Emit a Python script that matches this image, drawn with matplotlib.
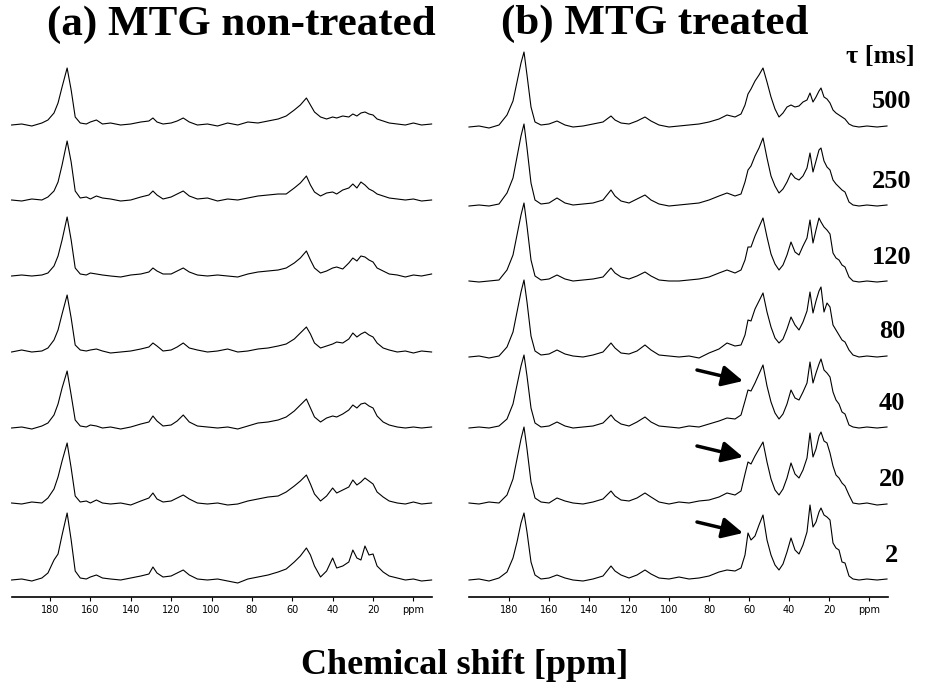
import numpy as np
import matplotlib
matplotlib.use('Agg')
import matplotlib.pyplot as plt

# chemical shift grids (ppm) for the two panels
ppm_a = [199, 194, 189, 184, 181, 178, 176, 174, 171.5, 169.5, 167.5, 165, 162, 160, 157, 154, 150, 145,
         140, 135, 131, 129, 127, 124, 120, 117, 114, 111, 107, 102, 97, 92, 87, 82, 77, 72, 67, 63, 59,
         56, 53, 51, 49, 46, 43, 40, 38, 35, 32, 30, 28, 26, 24, 22, 20, 18, 15, 12, 8, 4, 0, -4, -9]
ppm_b = [200, 195, 190, 185, 181, 178, 176, 174, 172.5, 171, 169, 167, 164, 160, 156, 152, 148, 143,
         138, 133, 129, 127, 124, 120, 116, 112, 109, 105, 100, 95, 90, 85, 80, 75, 71, 67, 64, 62, 60.5,
         59, 57, 55, 53, 51, 49, 47, 45, 43, 41, 39, 37, 35, 33, 31, 29.5, 28, 26.5, 25, 24, 22.5, 21,
         19.5, 18, 16.5, 15, 13.5, 12, 10, 8, 5, 1, -4, -9]

tau = ["500", "250", "120", "80", "40", "20", "2"]

# (a) MTG non-treated, intensities (top to bottom)
a_500 = [0, 1, -1, 2, 5, 12, 22, 38, 57, 35, 8, 2, 1, 3, 5, 1, 2, 0, 1, 3, 4, 7, 3, 1, 2, 4, 7, 3, 0, 1,
         -1, 2, 0, 3, 2, 4, 6, 9, 15, 20, 27, 20, 13, 8, 6, 8, 7, 9, 8, 11, 9, 12, 13, 11, 10, 6, 4, 2, 1, 0,
         2, 0, 1]
a_250 = [0, -1, 1, 0, 3, 9, 18, 35, 59, 38, 9, 2, 3, 1, 4, 2, 1, -1, 0, 3, 5, 9, 5, 1, 3, 6, 9, 4, 1, 2,
         -1, 1, 0, 2, 4, 5, 6, 6, 12, 17, 24, 15, 8, 4, 7, 8, 6, 10, 12, 16, 12, 18, 15, 11, 9, 6, 4, 2, 1, 0,
         1, -1, 0]
a_120 = [0, 1, 0, 1, 3, 10, 20, 36, 59, 36, 8, 2, 1, 3, 2, 1, 0, -1, 1, 2, 4, 8, 5, 2, 2, 5, 8, 4, 1, 0,
         1, 0, -1, 2, 4, 5, 6, 8, 13, 18, 25, 16, 8, 3, 5, 8, 9, 7, 13, 18, 15, 20, 19, 16, 14, 8, 5, 2, 1, -1,
         1, 0, 2]
a_80 = [0, 2, 0, 1, 4, 12, 22, 38, 57, 34, 7, 2, 1, 2, 3, 1, -1, 0, 1, 3, 5, 9, 6, 1, 2, 5, 9, 4, 2, 0,
        1, 3, 0, 1, 3, 4, 6, 8, 13, 19, 25, 18, 9, 4, 6, 8, 10, 9, 13, 19, 15, 18, 20, 17, 15, 9, 4, 2, 0, 1,
        -1, 1, 0]
a_40 = [0, 1, -1, 2, 5, 13, 24, 40, 57, 33, 8, 2, 1, 3, 2, 0, 1, -1, 1, 4, 6, 12, 7, 2, 3, 7, 13, 6, 2, 1,
        0, 1, -1, 2, 5, 6, 8, 11, 17, 23, 29, 20, 11, 6, 10, 12, 11, 14, 18, 23, 20, 24, 25, 22, 20, 12, 6, 3, 1, 0,
        1, 0, 1]
a_20 = [1, 0, 2, 1, 6, 15, 27, 43, 61, 36, 8, 2, 3, 1, 4, 1, 0, 1, -1, 3, 6, 11, 5, 2, 3, 6, 9, 5, 1, 0,
        1, -1, 0, 3, 5, 7, 8, 12, 18, 23, 29, 20, 10, 3, 8, 16, 11, 14, 17, 24, 19, 22, 26, 23, 20, 12, 7, 3, 1, 0,
        2, 0, 1]
a_2 = [0, 1, -1, 2, 7, 20, 26, 45, 67, 40, 9, 2, 1, 3, 5, 2, 1, 0, 2, 4, 6, 13, 7, 3, 4, 7, 10, 5, 1, 0,
       1, -1, -3, 1, 3, 5, 8, 11, 18, 24, 32, 25, 14, 3, 9, 22, 12, 14, 18, 30, 22, 20, 34, 25, 26, 14, 8, 4, 2, 0,
       1, -1, 0]

# (b) MTG treated
b_500 = [0, 1, -1, 2, 12, 26, 45, 64, 75, 52, 20, 5, 2, 3, 6, 2, 0, 1, 3, 5, 11, 7, 4, 3, 6, 10, 6, 2, 0, 1,
         2, 3, 5, 8, 12, 10, 13, 22, 33, 38, 46, 52, 59, 45, 30, 18, 10, 14, 20, 22, 20, 21, 25, 27, 34, 25, 30, 36, 39, 30,
         28, 24, 17, 14, 12, 10, 8, 3, 1, 0, 1, 0, 1]
b_250 = [0, 1, 0, 2, 13, 28, 49, 70, 82, 58, 23, 6, 2, 3, 8, 3, 1, 2, 3, 6, 16, 10, 5, 3, 7, 11, 6, 2, 0, 1,
         2, 3, 6, 10, 13, 10, 12, 24, 36, 40, 50, 58, 68, 48, 30, 20, 13, 17, 24, 33, 28, 26, 30, 38, 53, 34, 45, 56, 58, 45,
         39, 36, 26, 22, 19, 16, 14, 4, 1, 0, 1, 0, 1]
b_120 = [1, 0, 1, 2, 12, 27, 47, 67, 79, 56, 22, 6, 2, 3, 7, 3, 1, 2, 3, 5, 14, 9, 5, 3, 6, 10, 6, 2, 1, 1,
         2, 3, 5, 9, 12, 9, 12, 22, 35, 35, 46, 55, 64, 45, 28, 18, 12, 17, 27, 40, 30, 27, 36, 44, 62, 39, 52, 64, 60, 55,
         52, 48, 29, 24, 22, 17, 15, 5, 1, 0, 1, 0, 1]
b_80 = [0, 1, -1, 1, 10, 25, 45, 65, 77, 55, 21, 6, 2, 3, 7, 3, 1, 0, 2, 5, 14, 9, 4, 3, 6, 12, 7, 2, 1, 0,
        1, -1, 4, 8, 14, 11, 12, 22, 37, 36, 48, 56, 64, 45, 30, 19, 14, 18, 28, 40, 32, 27, 35, 46, 65, 44, 56, 66, 70, 45,
        54, 50, 32, 27, 22, 17, 15, 7, 2, 0, 1, 0, 1]
b_40 = [0, 1, 0, 2, 9, 24, 43, 62, 73, 52, 20, 5, 1, 2, 6, 2, 0, 1, 2, 5, 13, 8, 4, 2, 6, 11, 6, 2, 1, 0,
        2, 1, 4, 7, 10, 9, 13, 27, 38, 37, 45, 54, 63, 42, 26, 15, 9, 14, 24, 38, 30, 28, 36, 45, 66, 45, 55, 64, 69, 58,
        55, 51, 36, 28, 24, 16, 14, 3, 1, 0, 1, 0, 1]
b_20 = [1, 0, 2, 1, 9, 25, 45, 65, 77, 55, 22, 6, 2, 1, 6, 3, 1, 0, 2, 5, 13, 8, 4, 3, 6, 11, 7, 2, 0, 2,
        1, 3, 4, 7, 11, 9, 13, 30, 42, 40, 48, 55, 62, 42, 25, 14, 9, 15, 26, 41, 30, 26, 34, 46, 71, 47, 55, 68, 72, 63,
        61, 51, 38, 29, 26, 21, 18, 9, 1, 0, 1, -1, 0]
b_2 = [0, 1, -1, 2, 8, 22, 38, 57, 67, 48, 18, 5, 1, 2, 5, 2, 0, -1, 1, 4, 14, 9, 5, 2, 5, 10, 6, 2, 1, 3,
       1, 2, 4, 8, 10, 9, 12, 25, 47, 40, 44, 55, 65, 40, 25, 15, 10, 16, 28, 42, 30, 26, 35, 48, 75, 53, 58, 68, 72, 65,
       63, 60, 37, 32, 30, 18, 17, 4, 1, 0, 1, 0, 1]

spectra_a = [a_500, a_250, a_120, a_80, a_40, a_20, a_2]
spectra_b = [b_500, b_250, b_120, b_80, b_40, b_20, b_2]
arrow_tau = ["40", "20", "2"]

tick_pos = [180, 160, 140, 120, 100, 80, 60, 40, 20, 0]
tick_lab = ["180", "160", "140", "120", "100", "80", "60", "40", "20", "ppm"]

# stacking offsets (vertical shift of each trace, top to bottom)
off_a = [472, 397, 321, 245, 169, 93, 17]
off_b = [470, 391, 315, 240, 169, 93, 17]

W, H = 932, 689
fig = plt.figure(figsize=(W / 100, H / 100), dpi=100)
serif = ['Liberation Serif', 'DejaVu Serif']


def make_axes(left, right, xlim):
    ax = fig.add_axes([left / W, 1 - 597 / H, (right - left) / W, (597 - 40) / H])
    ax.set_xlim(*xlim)
    ax.set_ylim(0, 557)
    for s in ['top', 'left', 'right']:
        ax.spines[s].set_visible(False)
    ax.spines['bottom'].set_linewidth(1.2)
    ax.set_yticks([])
    ax.set_xticks(tick_pos)
    ax.set_xticklabels(tick_lab, fontsize=7, family='DejaVu Sans')
    ax.tick_params(axis='x', direction='out', length=3, width=0.8, pad=2.5)
    ax.patch.set_alpha(0)
    return ax


ax_a = make_axes(12, 432, (198.8, -9.2))
ax_b = make_axes(469, 888, (200, -9.5))

for vals, off in zip(spectra_a, off_a):
    ax_a.plot(ppm_a, np.array(vals) + off, color='k', lw=0.8, clip_on=False)

for t, vals, off in zip(tau, spectra_b, off_b):
    ax_b.plot(ppm_b, np.array(vals) + off, color='k', lw=0.8, clip_on=False)
    ax_b.text(-11.5, off + 25, t, ha='center', va='center', fontsize=19,
              fontweight='bold', family=serif, clip_on=False)
    # arrows mark the shoulder near 60 ppm
    if t in arrow_tau:
        ax_b.annotate("", xy=(63, off + 47), xytext=(86, off + 58),
                      arrowprops=dict(arrowstyle='-|>,head_length=0.9,head_width=0.45',
                                      mutation_scale=14, lw=2.5, color='k',
                                      shrinkA=0, shrinkB=0))

fig.text(241 / W, 1 - 25 / H, "(a) MTG non-treated", ha='center', va='center',
         fontsize=31, fontweight='bold', family=serif)
fig.text(655 / W, 1 - 24 / H, "(b) MTG treated", ha='center', va='center',
         fontsize=31, fontweight='bold', family=serif)
fig.text(880 / W, 1 - 56 / H, "τ [ms]", ha='center', va='center',
         fontsize=19, fontweight='bold', family=serif)
fig.text(465 / W, 1 - 665 / H, "Chemical shift [ppm]", ha='center', va='center',
         fontsize=26, fontweight='bold', family=serif)

fig.savefig('out.png', dpi=100)
